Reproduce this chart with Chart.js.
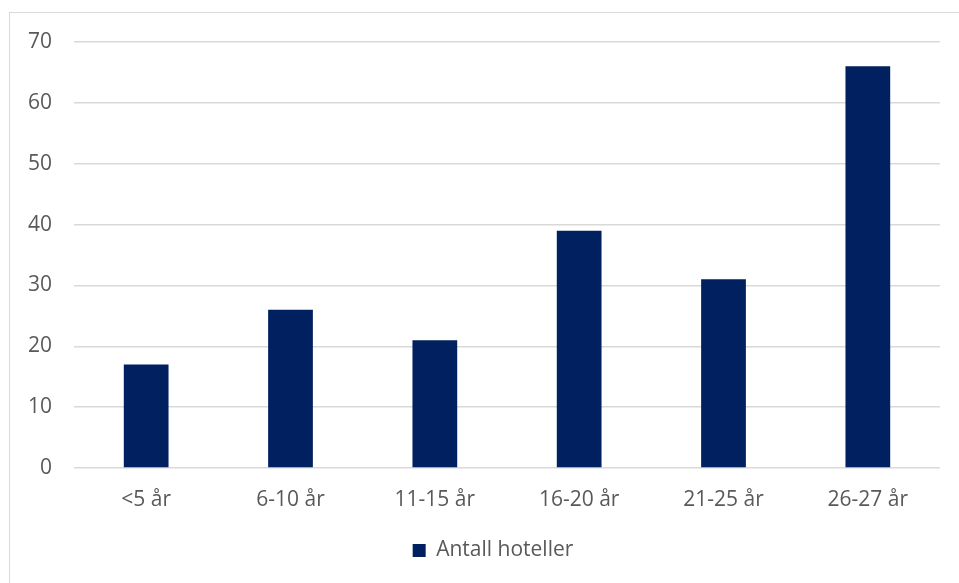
<!DOCTYPE html>
<html>
<head>
<meta charset="utf-8">
<script src="https://cdn.jsdelivr.net/npm/chart.js@4"></script>
<style>
  html, body { margin: 0; padding: 0; background: #fff; }
  body { width: 959px; height: 583px; position: relative; overflow: hidden; }
  /* ramme rundt diagrammet, som i Excel */
  #ramme { position: absolute; left: 9px; top: 12px; width: 1000px; height: 700px; border: 1.5px solid #d9d9d9; box-sizing: border-box; }
  #wrap { position: absolute; left: 0; top: 0; width: 959px; height: 583px; }
</style>
</head>
<body>
<div id="ramme"></div>
<div id="wrap"><canvas id="graf"></canvas></div>
<script>
// Data lest av figuren
const kategorier = ['<5 år', '6-10 år', '11-15 år', '16-20 år', '21-25 år', '26-27 år'];
const antallHoteller = [17, 26, 21, 39, 31, 66];
const serieNavn = 'Antall hoteller';

const tekstFarge = '#595959';
const font = { family: "'Open Sans', 'Liberation Sans', sans-serif", size: 21 };

// forklaringen står litt til høyre for midten i originalen
const flyttForklaring = {
    id: 'flyttForklaring',
    afterLayout(chart) {
        chart.legend.left += 23;
        chart.legend.right += 23;
    }
};

const ctx = document.getElementById('graf').getContext('2d');
new Chart(ctx, {
    type: 'bar',
    data: {
        labels: kategorier,
        datasets: [{
            label: serieNavn,
            data: antallHoteller,
            backgroundColor: '#002060',
            borderWidth: 0,
            categoryPercentage: 1,
            barPercentage: 0.31
        }]
    },
    options: {
        responsive: true,
        maintainAspectRatio: false,
        animation: false,
        layout: { padding: { top: 42, right: 19, bottom: 12, left: 0 } },
        scales: {
            x: {
                grid: { display: false, drawTicks: false },
                border: { display: false },
                ticks: { color: tekstFarge, font: font, padding: 19 },
                afterFit: s => { s.height = 62; }
            },
            y: {
                min: 0,
                max: 70,
                ticks: { stepSize: 10, color: tekstFarge, font: font, padding: 22 },
                grid: { color: '#d9d9d9', lineWidth: 1.5, drawTicks: false },
                border: { display: false },
                afterFit: s => { s.width = 74; }
            }
        },
        plugins: {
            legend: {
                position: 'bottom',
                labels: { color: tekstFarge, font: font, boxWidth: 13, boxHeight: 13, padding: 10 }
            },
            tooltip: { enabled: false }
        }
    },
    plugins: [flyttForklaring]
});
</script>
</body>
</html>
